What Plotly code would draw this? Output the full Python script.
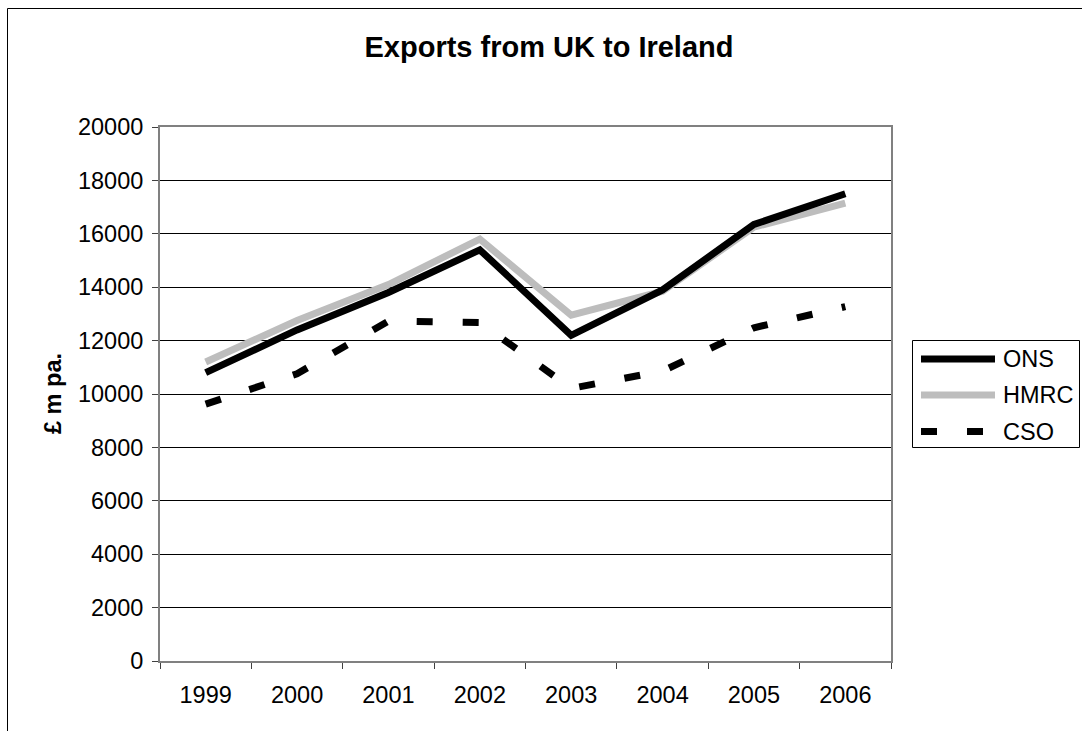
import plotly.graph_objects as go

years = ["1999", "2000", "2001", "2002", "2003", "2004", "2005", "2006"]
ons = [10800, 12400, 13800, 15400, 12200, 13900, 16350, 17500]
hmrc = [11200, 12750, 14100, 15800, 12950, 13850, 16250, 17150]
cso = [9620, 10760, 12730, 12680, 10210, 10860, 12480, 13270]
y_ticks = list(range(0, 20001, 2000))

W, H = 1082, 731
L, R, T, B = 160, 891, 127, 661  # plot area in px
FONT = "Liberation Sans, Arial, sans-serif"
FS = 23.5

def px_x(p):
    return (p - L) / (R - L)

def px_y(p):
    return (B - p) / (B - T)

series = [
    ("HMRC", hmrc, dict(color="#bdbdbd", width=7)),
    ("ONS", ons, dict(color="black", width=7)),
    ("CSO", cso, dict(color="black", width=7, dash="16px,30px")),
]

fig = go.Figure()
for name, vals, line in series:
    fig.add_trace(go.Scatter(x=years, y=vals, name=name, mode="lines", line=line))

# Legend (drawn as shapes + text to match the long sample lines)
legend_order = ["ONS", "HMRC", "CSO"]
legend_rows = [359, 395, 431.5]
line_styles = {name: line for name, _, line in series}
shapes = [
    dict(type="rect", xref="paper", yref="paper",
         x0=px_x(7.5), x1=px_x(1100), y0=px_y(760), y1=px_y(8.5),
         line=dict(color="black", width=1), layer="below"),
    dict(type="rect", xref="paper", yref="paper",
         x0=px_x(912.5), x1=px_x(1079.5), y0=px_y(447.5), y1=px_y(340.5),
         line=dict(color="black", width=1), fillcolor="white"),
]
annotations = [
    dict(text="<b>£ m pa.</b>", textangle=-90, xref="paper", yref="paper",
         x=px_x(53), y=px_y(393), xanchor="center", yanchor="middle",
         showarrow=False, font=dict(family=FONT, size=FS, color="black")),
]
for name, yrow in zip(legend_order, legend_rows):
    st = line_styles[name]
    shapes.append(dict(type="line", xref="paper", yref="paper",
                       x0=px_x(921), x1=px_x(995), y0=px_y(yrow), y1=px_y(yrow),
                       line=dict(color=st["color"], width=st["width"],
                                 dash=st.get("dash", "solid"))))
    annotations.append(dict(text=name, xref="paper", yref="paper",
                            x=px_x(1001), y=px_y(yrow), xanchor="left", yanchor="middle",
                            showarrow=False,
                            font=dict(family=FONT, size=FS, color="black")))

fig.update_layout(
    width=W, height=H,
    margin=dict(l=L, r=W - R, t=T, b=H - B, autoexpand=False),
    paper_bgcolor="white", plot_bgcolor="white",
    font=dict(family=FONT, size=FS, color="black"),
    showlegend=False,
    title=dict(text="<b>Exports from UK to Ireland</b>", x=549 / W, y=1 - 47 / H,
               xanchor="center", yanchor="middle",
               font=dict(family=FONT, size=29, color="black")),
    xaxis=dict(type="category", categoryarray=years, range=[-0.5, 7.5],
               tickson="boundaries",
               ticks="outside", ticklen=6, tickcolor="#404040", tickwidth=1,
               showline=True, linecolor="#808080", linewidth=2, mirror=True,
               showgrid=False, zeroline=False, ticklabelstandoff=12,
               tickfont=dict(family=FONT, size=FS, color="black")),
    yaxis=dict(range=[0, 20000], tickvals=y_ticks, tickformat="d",
               ticks="outside", ticklen=6,
               tickcolor="#404040", tickwidth=1,
               showline=True, linecolor="#808080", linewidth=2, mirror=True,
               showgrid=True, gridcolor="black", gridwidth=1, zeroline=False,
               ticklabelstandoff=4,
               tickfont=dict(family=FONT, size=FS, color="black")),
    annotations=annotations,
    shapes=shapes,
)

fig.write_html("out.html")
